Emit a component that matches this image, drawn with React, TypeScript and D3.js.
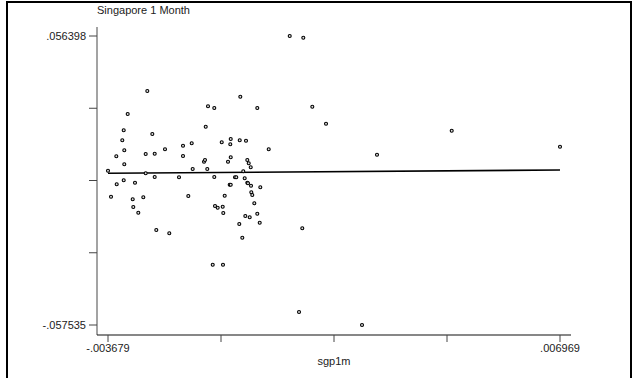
import React, { useEffect, useRef } from "react";
import * as d3 from "d3";

const title = "Singapore 1 Month";
const xLabel = "sgp1m";

// sgp1m values
const xs = [
  -0.003679, -0.003608, -0.003483, -0.003474, -0.003342, -0.003309, -0.003295, -0.003295,
  -0.003309, -0.003215, -0.003097, -0.003083, -0.003043, -0.002965, -0.002847, -0.002791,
  -0.002791, -0.002753, -0.002635, -0.002579, -0.002579, -0.002541, -0.002336, -0.002235,
  -0.002006, -0.001912, -0.001912, -0.001787, -0.001707, -0.001684, -0.001417, -0.001394,
  -0.001377, -0.00134, -0.001323, -0.001212, -0.001175, -0.001175, -0.001158, -0.001095,
  -0.001, -0.000977, -0.00097, -0.000963, -0.00093, -0.000852, -0.000812, -0.000788,
  -0.000798, -0.000788, -0.000788, -0.000687, -0.000657, -0.000586, -0.000576, -0.000562,
  -0.000515, -0.000492, -0.000459, -0.000444, -0.000428, -0.000397, -0.000397, -0.000381,
  -0.000364, -0.000341, -0.000317, -0.00031, -0.000303, -0.00028, -0.000232, -0.000162,
  -0.000162, -0.000105, -0.000091, 0.000107, 0.000602, 0.000821, 0.000898, 0.000922,
  0.001134, 0.001457, 0.002305, 0.002658, 0.004418, 0.006969,
];

// dependent values
const ys = [
  0.003295, -0.006955, 0.008972, -0.002066, 0.01528, 0.019222, 0.011338, 0.005818,
  -0.000489, 0.025648, -0.00798, -0.011015, -0.001436, -0.013262, -0.007191, 0.009879,
  0.00227, 0.034715, 0.017763, 0.009997, 0.000812, -0.020083, 0.011732, -0.021384,
  0.000693, 0.013151, 0.00909, -0.006679, 0.014097, 0.003965, 0.006843, 0.007513,
  0.020641, 0.003965, 0.028684, -0.033762, 0.028013, 0.000812, -0.010621, -0.011291,
  0.014491, -0.010897, -0.033762, -0.013381, -0.006561, 0.006843, -0.002224, -0.002224,
  0.013703, 0.015792, 0.008578, 0.000693, 0.000693, -0.017717, 0.01528, 0.032468,
  -0.023118, 0.003059, 0.000299, -0.014563, 0.015122, 0.007513, -0.001436, -0.001672,
  0.006213, -0.015076, 0.004636, -0.002618, -0.00522, -0.006285, -0.009557, 0.028013,
  -0.013657, -0.017205, -0.003249, 0.011732, 0.056398, -0.052409, -0.019412, 0.055728,
  0.028526, 0.021824, -0.057535, 0.009603, 0.019064, 0.012757,
];

// fitted line at the ends of the x range
const fitX = [-0.003679, 0.006969];
const fitY = [0.00227, 0.003571];

const yTickLabels = [".056398", "-.057535"];
const xTickLabels = ["-.003679", ".006969"];

const W = 636;
const H = 378;

export default function App() {
  const ref = useRef<SVGSVGElement>(null);

  useEffect(() => {
    const svg = d3.select(ref.current);
    svg.selectAll("*").remove();
    const font = "Arial, 'Liberation Sans', Helvetica, sans-serif";

    const x = d3.scaleLinear().domain([fitX[0], fitX[1]]).range([108, 560]);
    const y = d3.scaleLinear().domain([-0.057535, 0.056398]).range([325, 36]);

    // outer frame
    svg.append("rect")
      .attr("x", 7).attr("y", 2).attr("width", 624).attr("height", 420)
      .attr("fill", "none").attr("stroke", "#000").attr("stroke-width", 2);

    // axes
    const yTicks = d3.range(5).map((i) => y.domain()[0] + (i * (y.domain()[1] - y.domain()[0])) / 4);
    const xTicks = d3.range(5).map((i) => x.domain()[0] + (i * (x.domain()[1] - x.domain()[0])) / 4);

    svg.append("line")
      .attr("x1", 97).attr("x2", 97).attr("y1", 27).attr("y2", 335)
      .attr("stroke", "#666").attr("stroke-width", 1.2);
    svg.append("line")
      .attr("x1", 97).attr("x2", 571).attr("y1", 335).attr("y2", 335)
      .attr("stroke", "#111").attr("stroke-width", 1.2);

    svg.selectAll(".yt").data(yTicks).enter().append("line")
      .attr("x1", 89).attr("x2", 97)
      .attr("y1", (d) => y(d)).attr("y2", (d) => y(d))
      .attr("stroke", "#444").attr("stroke-width", 1);
    svg.selectAll(".xt").data(xTicks).enter().append("line")
      .attr("x1", (d) => x(d)).attr("x2", (d) => x(d))
      .attr("y1", 335).attr("y2", 342)
      .attr("stroke", "#444").attr("stroke-width", 1);

    // tick labels at the ends
    svg.selectAll(".yl").data([y.domain()[1], y.domain()[0]]).enter().append("text")
      .attr("x", 86).attr("y", (d) => y(d)).attr("dy", "0.36em")
      .attr("text-anchor", "end").attr("font-family", font).attr("font-size", 11)
      .attr("fill", "#222")
      .text((d, i) => yTickLabels[i]);
    svg.selectAll(".xl").data([x.domain()[0], x.domain()[1]]).enter().append("text")
      .attr("x", (d) => x(d)).attr("y", 352)
      .attr("text-anchor", "middle").attr("font-family", font).attr("font-size", 11)
      .attr("fill", "#222")
      .text((d, i) => xTickLabels[i]);

    svg.append("text")
      .attr("x", (x.range()[0] + x.range()[1]) / 2).attr("y", 365)
      .attr("text-anchor", "middle").attr("font-family", font).attr("font-size", 11)
      .attr("fill", "#222").text(xLabel);

    svg.append("text")
      .attr("x", 97).attr("y", 14)
      .attr("font-family", font).attr("font-size", 11)
      .attr("fill", "#222").text(title);

    // fitted line
    const line = d3.line<number>().x((d, i) => x(fitX[i])).y((d) => y(d));
    svg.append("path")
      .attr("d", line(fitY))
      .attr("fill", "none").attr("stroke", "#000").attr("stroke-width", 1.6);

    // points
    svg.selectAll(".pt").data(xs).enter().append("circle")
      .attr("cx", (d) => x(d))
      .attr("cy", (d, i) => y(ys[i]))
      .attr("r", 1.5)
      .attr("fill", "#ddd")
      .attr("stroke", "#000")
      .attr("stroke-width", 1.1);
  }, []);

  return (
    <div style={{ position: "absolute", left: 0, top: 0 }}>
      <svg ref={ref} width={W} height={H} style={{ display: "block", background: "#fff" }} />
    </div>
  );
}
